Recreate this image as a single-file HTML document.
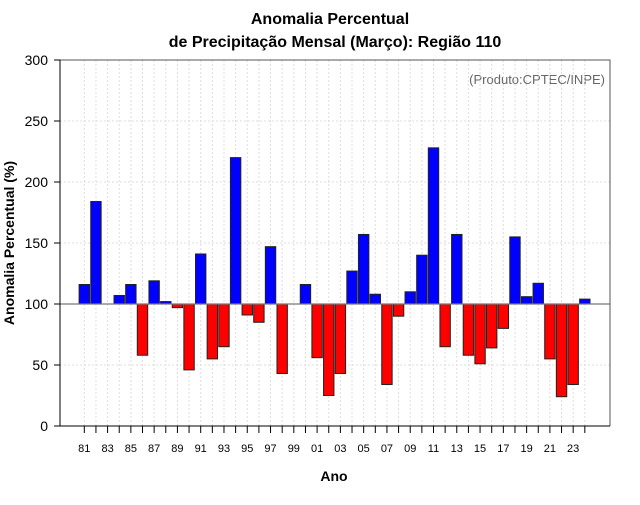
<!DOCTYPE html>
<html><head><meta charset="utf-8"><style>
body{margin:0;background:#fff;font-family:"Liberation Sans",sans-serif}
svg text{font-family:"Liberation Sans",sans-serif}
</style></head><body>
<svg id="chart" width="640" height="500">
<rect width="640" height="500" fill="#fff"/>
<text x="330" y="24" text-anchor="middle" font-size="16" font-weight="bold">Anomalia Percentual</text>
<text x="335" y="47" text-anchor="middle" font-size="16" font-weight="bold">de Precipitação Mensal (Março): Região 110</text>
<text x="605" y="84" text-anchor="end" font-size="13" fill="#666">(Produto:CPTEC/INPE)</text>
<text x="334" y="481" text-anchor="middle" font-size="14" font-weight="bold">Ano</text>
<text transform="translate(14,243) rotate(-90)" text-anchor="middle" font-size="14" font-weight="bold">Anomalia Percentual (%)</text>
<g id="grid"></g><g id="bars"></g><g id="axes"></g>
</svg>
<script>
const years=[81,82,83,84,85,86,87,88,89,90,91,92,93,94,95,96,97,98,99,0,1,2,3,4,5,6,7,8,9,10,11,12,13,14,15,16,17,18,19,20,21,22,23,24];
const values=[116,184,100,107,116,58,119,102,97,46,141,55,65,220,91,85,147,43,100,116,56,25,43,127,157,108,34,90,110,140,228,65,157,58,51,64,80,155,106,117,55,24,34,104];
const yTicks=[0,50,100,150,200,250,300];
const NS='http://www.w3.org/2000/svg';
const L=60,R=610,T=60,B=426;
const y=v=>B-(v/300)*(B-T);
const x=i=>84.3+i*11.64;
function mk(tag,attrs,parent){const e=document.createElementNS(NS,tag);for(const k in attrs)e.setAttribute(k,attrs[k]);parent.appendChild(e);return e;}
const grid=document.getElementById('grid'),bars=document.getElementById('bars'),axes=document.getElementById('axes');
yTicks.forEach(t=>{
 const g=mk('line',{x1:L,x2:R,y1:y(t),y2:y(t),stroke:'#ddd','stroke-dasharray':'2,2'},grid);
 
 
 const tk=mk('line',{x1:L-6,x2:L,y1:y(t),y2:y(t),stroke:'#000'},axes);
 
 
 const tx=mk('text',{x:L-12,y:y(t)+5,'text-anchor':'end','font-size':'14'},axes);
 tx.textContent=t;
 
 
});
years.forEach((yr,i)=>{
 const g=mk('line',{x1:x(i),x2:x(i),y1:T,y2:B,stroke:'#ddd','stroke-dasharray':'2,2'},grid);
 
 
 const tk=mk('line',{x1:x(i),x2:x(i),y1:B,y2:B+7,stroke:'#000'},axes);
 
 
 if(i%2===0){
  const tx=mk('text',{x:x(i),y:B+26,'text-anchor':'middle','font-size':'11'},axes);
  tx.textContent=String(yr).padStart(2,'0');
  
  
 }
});
const base=y(100);
values.forEach((v,i)=>{
 const top=Math.min(y(v),base),h=Math.abs(y(v)-base);
 const r=mk('rect',{x:x(i)-5.2,y:top,width:10.4,height:h,fill:v>=100?'#0000ff':'#ff0000',stroke:'#222','stroke-width':1},bars);
 
 
});
const bl=mk('line',{x1:L,x2:R,y1:base,y2:base,stroke:'#777','stroke-width':1.2},axes);


const fr=mk('path',{d:`M${L},${T}H${R}V${B}`,fill:'none',stroke:'#555'},axes);


const ya=mk('line',{x1:L,x2:L,y1:T,y2:B,stroke:'#000'},axes);


const xa=mk('line',{x1:L,x2:R,y1:B,y2:B,stroke:'#000'},axes);


</script>
</body></html>
